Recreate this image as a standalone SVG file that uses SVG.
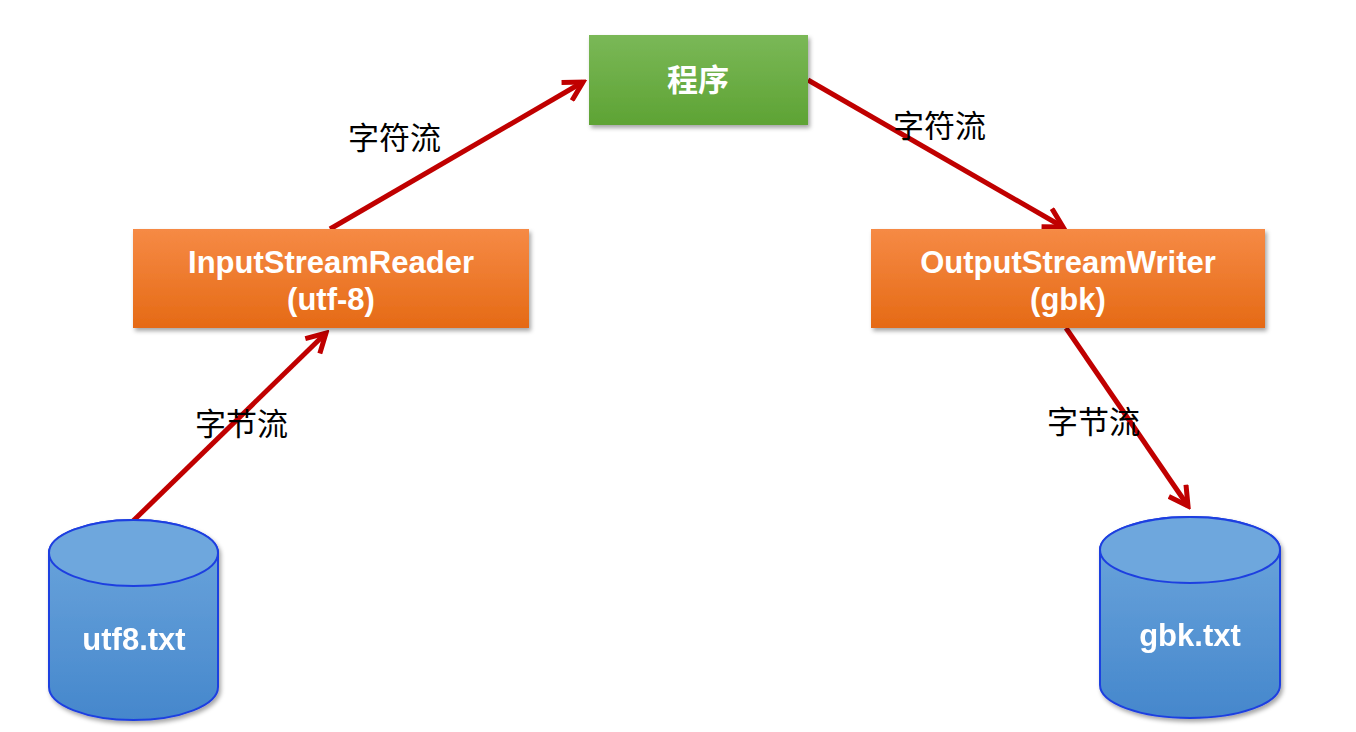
<svg xmlns="http://www.w3.org/2000/svg" width="1356" height="732" viewBox="0 0 1356 732">
<style>
.lbl{font-family:"Liberation Sans","Noto Sans CJK SC",sans-serif;font-size:31px;fill:#000}
.nt{font-family:"Liberation Sans","Noto Sans CJK SC",sans-serif;font-size:31px;font-weight:bold;fill:#fff;text-anchor:middle}
.conn{stroke:#c00000;stroke-width:5;fill:none;marker-end:url(#ah)}
.cyl{fill:url(#gb);stroke:#1f3fe0;stroke-width:2}
</style>
<defs>
<linearGradient id="gg" x1="0" y1="0" x2="0" y2="1"><stop offset="0" stop-color="#7ab857"/><stop offset="1" stop-color="#5ea334"/></linearGradient>
<linearGradient id="go" x1="0" y1="0" x2="0" y2="1"><stop offset="0" stop-color="#f68a45"/><stop offset="1" stop-color="#e56a15"/></linearGradient>
<linearGradient id="gb" x1="0" y1="0" x2="0" y2="1"><stop offset="0" stop-color="#6ea7dd"/><stop offset="1" stop-color="#4587cc"/></linearGradient>
<filter id="sh" x="-10%" y="-10%" width="120%" height="130%"><feDropShadow dx="2" dy="3" stdDeviation="2" flood-opacity="0.35"/></filter>
<marker id="ah" viewBox="0 0 12 12" refX="10" refY="6" markerWidth="5" markerHeight="5" orient="auto" markerUnits="strokeWidth"><path d="M1,1 L10,6 L1,11" fill="none" stroke="#c00000" stroke-width="2.4"/></marker>
</defs>
<rect width="1356" height="732" fill="#fff"/>
<g id="connectors">
<line class="conn" x1="133" y1="521" x2="326" y2="333"/>
<line class="conn" x1="330" y1="229" x2="583" y2="82"/>
<line class="conn" x1="808" y1="80" x2="1063" y2="227"/>
<line class="conn" x1="1066" y1="328" x2="1188" y2="506"/>
</g>
<g id="labels">
<text class="lbl" x="348" y="149">字符流</text>
<text class="lbl" x="893" y="137">字符流</text>
<text class="lbl" x="195" y="435">字节流</text>
<text class="lbl" x="1047" y="433">字节流</text>
</g>
<g id="program"><rect x="589" y="35" width="219" height="90" fill="url(#gg)" filter="url(#sh)"/><text class="nt" x="698" y="91">程序</text></g>
<g id="isr"><rect x="133" y="229" width="396" height="99" fill="url(#go)" filter="url(#sh)"/><text class="nt" x="331" y="273">InputStreamReader</text><text class="nt" x="331" y="310">(utf-8)</text></g>
<g id="osw"><rect x="871" y="229" width="394" height="99" fill="url(#go)" filter="url(#sh)"/><text class="nt" x="1068" y="273">OutputStreamWriter</text><text class="nt" x="1068" y="310">(gbk)</text></g>
<g id="utf8" filter="url(#sh)"><path class="cyl" d="M49,553 A84.5,33 0 0 1 218,553 L218,687 A84.5,33 0 0 1 49,687 Z"/><ellipse cx="133.5" cy="553" rx="84.5" ry="33" fill="#6ea7dd" stroke="#1f3fe0" stroke-width="2"/><text class="nt" x="134" y="650">utf8.txt</text></g>
<g id="gbk" filter="url(#sh)"><path class="cyl" d="M1100,550 A90,33 0 0 1 1280,550 L1280,685 A90,33 0 0 1 1100,685 Z"/><ellipse cx="1190" cy="550" rx="90" ry="33" fill="#6ea7dd" stroke="#1f3fe0" stroke-width="2"/><text class="nt" x="1190" y="646">gbk.txt</text></g>
</svg>
